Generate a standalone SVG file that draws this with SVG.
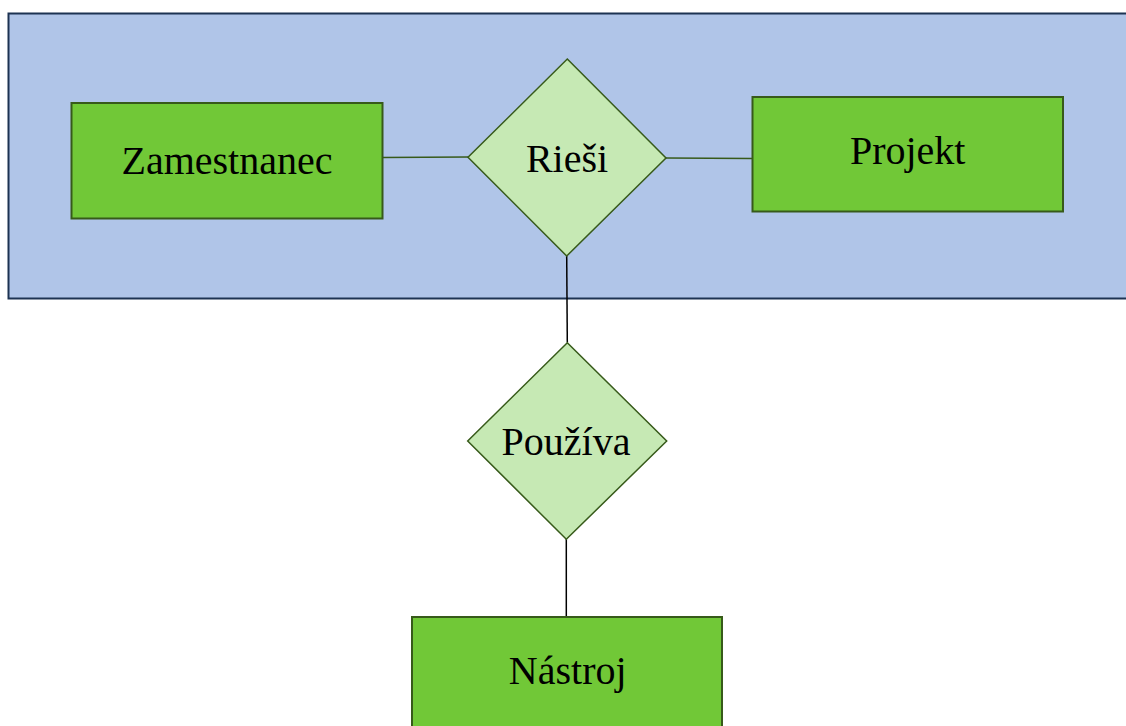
<svg xmlns="http://www.w3.org/2000/svg" width="1126" height="726" viewBox="0 0 1126 726">
<style>
.ent{fill:#71c837;stroke:#375a1a;stroke-width:2}
.rel{fill:#c6e9b4;stroke:#375a1a;stroke-width:1.5}
.lbl{font-family:'Liberation Serif','Times New Roman',Times,serif;font-size:40px;fill:#000;text-anchor:middle}
.cg{stroke:#375a1a;stroke-width:1.5;fill:none}
.ck{stroke:#000;stroke-width:1.5;fill:none}
</style>
<rect width="1126" height="726" fill="#fff"/>
<g id="area">
<rect x="8.5" y="13.5" width="1130" height="285" fill="#b0c5e8" stroke="#1d3352" stroke-width="2"/>
</g>
<g id="connectors">
<line class="cg" x1="382" y1="157.5" x2="468" y2="157"/>
<line class="cg" x1="666" y1="158" x2="752" y2="158.5"/>
<line class="ck" x1="566.7" y1="256" x2="567.3" y2="342.5"/>
<line class="ck" x1="566.3" y1="539" x2="566.3" y2="617"/>
</g>
<g id="zamestnanec">
<rect class="ent" x="71.5" y="103" width="311" height="115.5"/>
<text class="lbl" font-family="Liberation Serif, serif" x="227" y="174">Zamestnanec</text>
</g>
<g id="projekt">
<rect class="ent" x="752.5" y="97" width="310.5" height="114.5"/>
<text class="lbl" font-family="Liberation Serif, serif" x="907.7" y="163.5">Projekt</text>
</g>
<g id="riesi">
<polygon class="rel" points="567.3,59 666,158 566.7,256 468,157.3"/>
<text class="lbl" font-family="Liberation Serif, serif" x="567" y="171.7">Rieši</text>
</g>
<g id="pouziva">
<polygon class="rel" points="567.3,342.7 666.7,441 566.3,539.3 467.7,441"/>
<text class="lbl" font-family="Liberation Serif, serif" x="566" y="455">Používa</text>
</g>
<g id="nastroj">
<rect class="ent" x="412" y="617" width="310" height="120"/>
<text class="lbl" font-family="Liberation Serif, serif" x="567.7" y="684.3">Nástroj</text>
</g>
</svg>
